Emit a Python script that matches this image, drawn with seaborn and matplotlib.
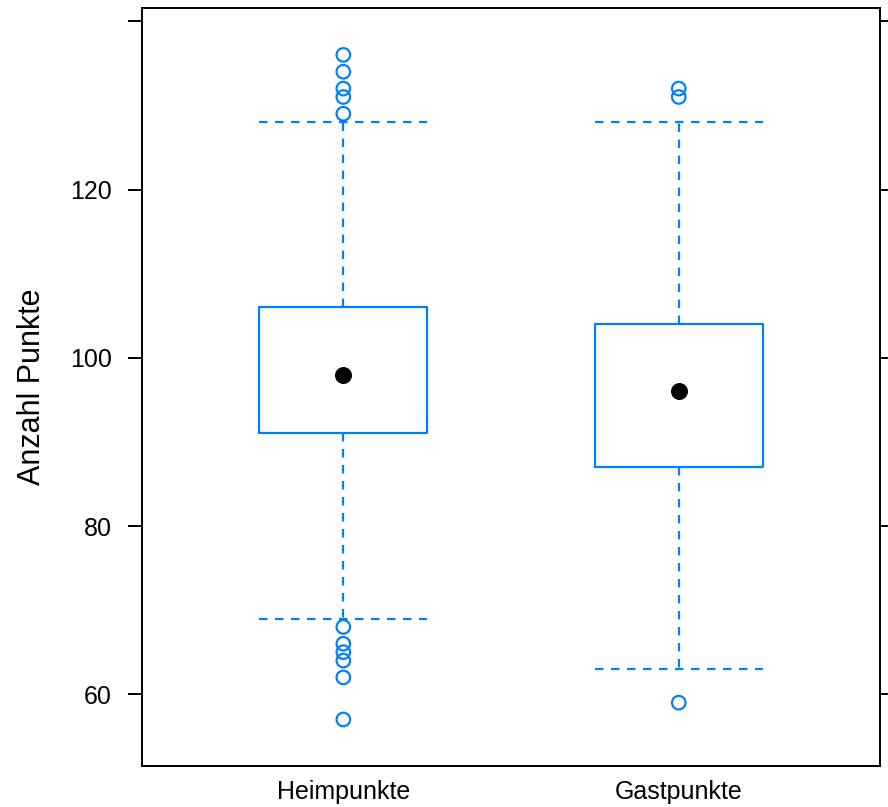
import numpy as np
import pandas as pd
import seaborn as sns
import matplotlib.pyplot as plt

# ---- data ----
groups = ["Heimpunkte", "Gastpunkte"]
q1 = [91, 87]
median = [98, 96]
q3 = [106, 104]
whisker_low = [69, 63]
whisker_high = [128, 128]
outliers_heim = [136, 134, 132, 131, 129, 68, 66, 65, 64, 62, 57]
outliers_gast = [132, 131, 59]
yticks = [60, 80, 100, 120, 140]
ytick_labels = ["60", "80", "100", "120", ""]

BLUE = "#0080ff"

sns.set_theme(style="white")
plt.rcParams["font.family"] = ["Liberation Sans", "DejaVu Sans"]
plt.rcParams["text.color"] = "black"
plt.rcParams["axes.labelcolor"] = "black"

fig = plt.figure(figsize=(8.88, 8.07), dpi=100)
ax = fig.add_axes([0.16, 0.0508, 0.831, 0.9388])

positions = [1, 2]
stats = []
for i, g in enumerate(groups):
    stats.append(dict(label=g, q1=q1[i], med=median[i], q3=q3[i],
                      whislo=whisker_low[i], whishi=whisker_high[i], fliers=[]))

dash = (0, (3.8, 3.4))
ax.bxp(stats, positions=positions, widths=0.5, capwidths=0.5,
       showfliers=False, patch_artist=False,
       boxprops=dict(color=BLUE, linewidth=1.6),
       whiskerprops=dict(color=BLUE, linewidth=1.6, linestyle=dash),
       capprops=dict(color=BLUE, linewidth=1.6, linestyle=dash),
       medianprops=dict(linewidth=0))

out_df = pd.DataFrame({
    "x": [1] * len(outliers_heim) + [2] * len(outliers_gast),
    "y": outliers_heim + outliers_gast,
})
sns.scatterplot(data=out_df, x="x", y="y", ax=ax, marker="o", s=95,
                facecolors="none", edgecolor=BLUE, linewidth=1.6, zorder=3)

med_df = pd.DataFrame({"x": positions, "y": median})
sns.scatterplot(data=med_df, x="x", y="y", ax=ax, marker="o", s=150,
                color="black", edgecolor="black", linewidth=0, zorder=4)

ax.set_xlim(0.4, 2.6)
ax.set_ylim(51.47, 141.53)
ax.set_xticks(positions)
ax.set_xticklabels(groups, fontsize=18)
ax.set_yticks(yticks)
ax.set_yticklabels(ytick_labels, fontsize=18)
ax.set_xlabel("")
ax.set_ylabel("Anzahl Punkte", fontsize=22, labelpad=16, color="black")

ax.tick_params(axis="y", which="both", left=True, right=True, direction="out",
               length=10, width=1.4, color="black", pad=12, labelcolor="black")
ax.tick_params(axis="x", bottom=False, top=False, pad=4, labelcolor="black")
for sp in ax.spines.values():
    sp.set_visible(True)
    sp.set_color("black")
    sp.set_linewidth(1.4)
ax.grid(False)
ax.set_facecolor("white")
fig.patch.set_facecolor("white")

fig.savefig("out.png", dpi=100)
